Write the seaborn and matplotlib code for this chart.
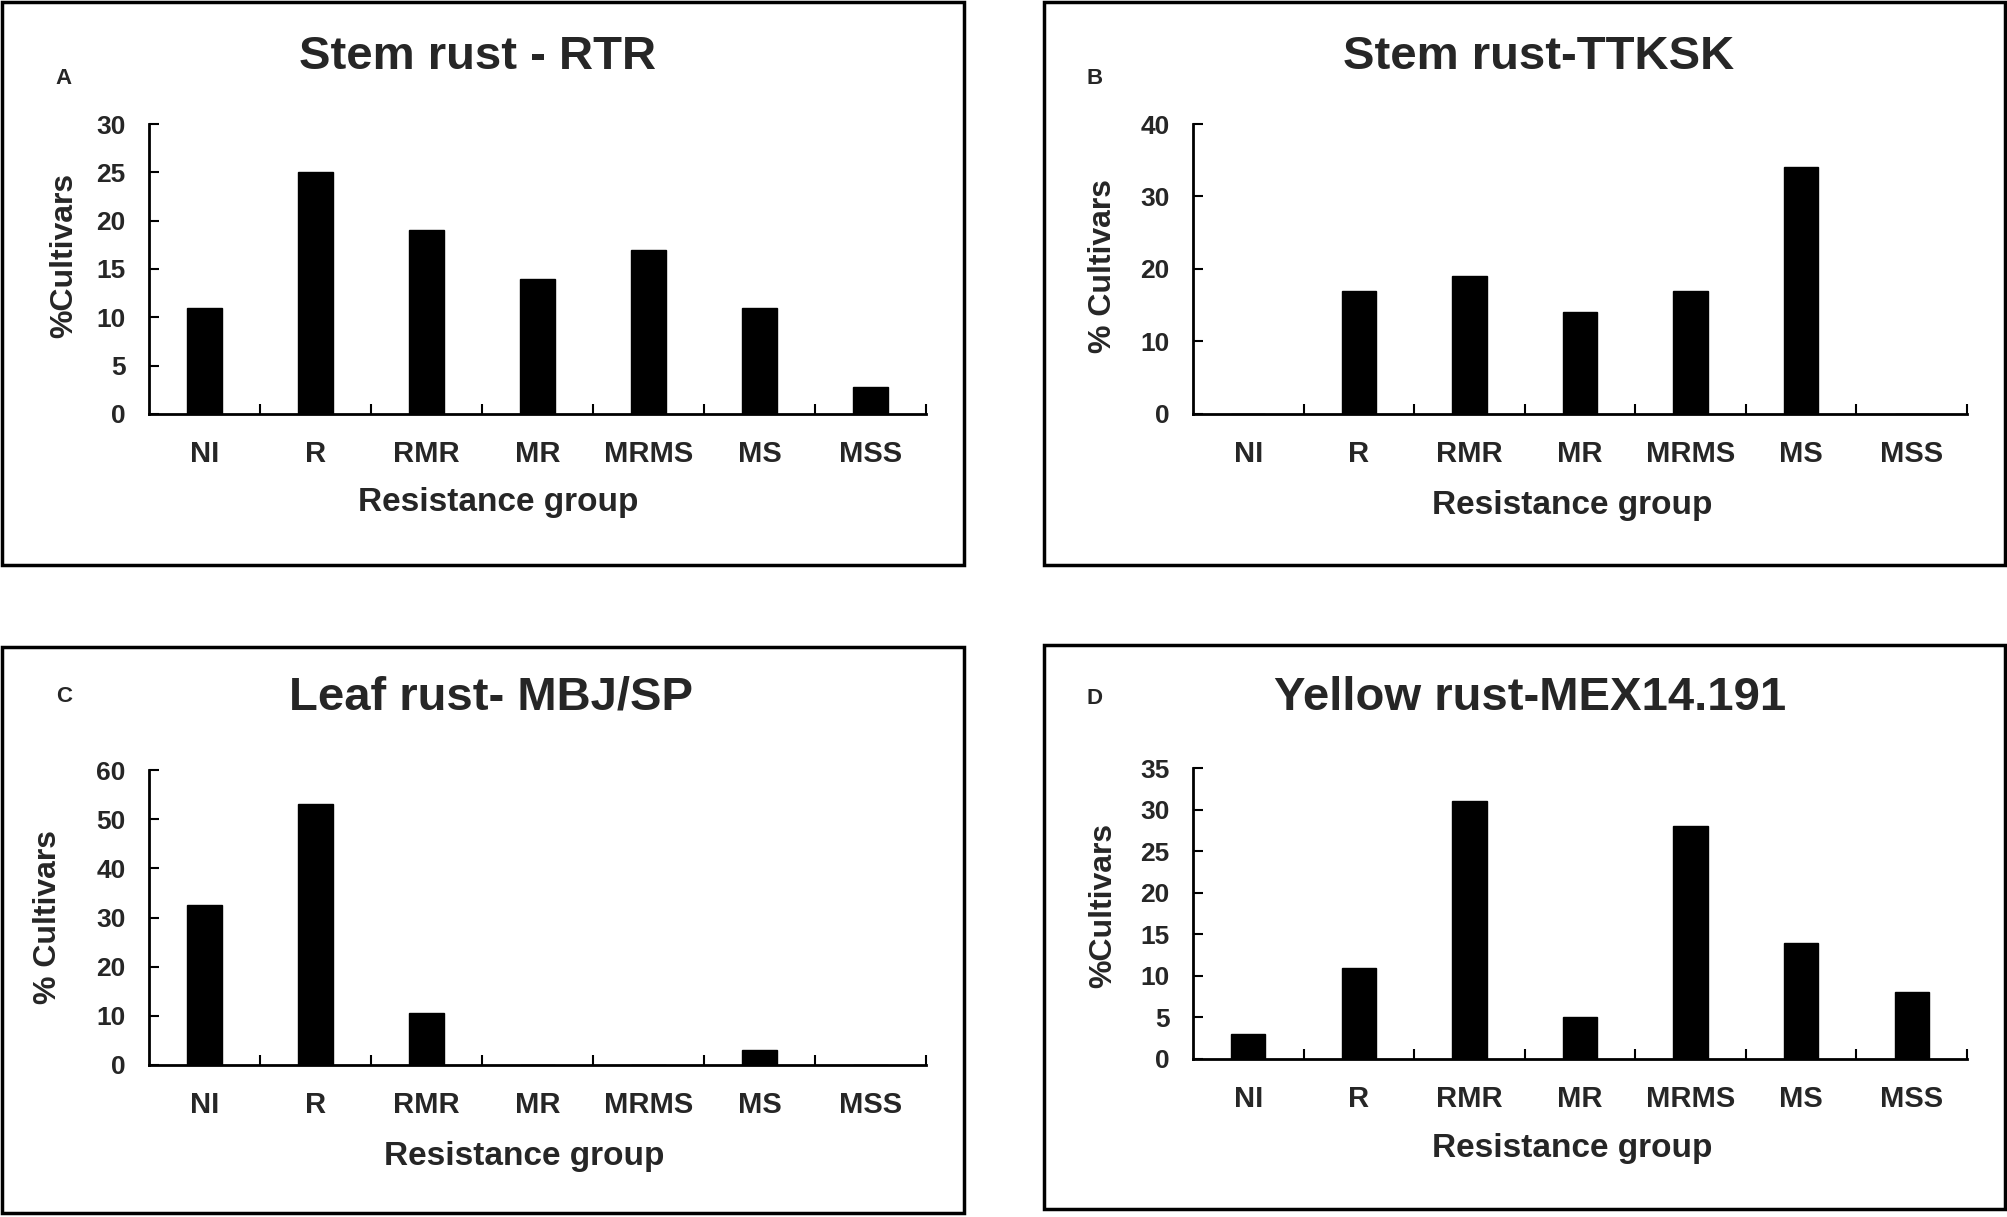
import matplotlib
matplotlib.use("Agg")
import matplotlib.pyplot as plt
import seaborn as sns
from matplotlib.patches import Rectangle

# Resistance groups on the x axis
groups = ["NI", "R", "RMR", "MR", "MRMS", "MS", "MSS"]

# % cultivars per group
stem_rtr = [11, 25, 19, 14, 17, 11, 2.8]
stem_ttksk = [0, 17, 19, 14, 17, 34, 0]
leaf_mbj = [32.5, 53, 10.5, 0, 0, 3, 0]
yellow_mex = [3, 11, 31, 5, 28, 14, 8]

titles = ["Stem rust - RTR", "Stem rust-TTKSK", "Leaf rust- MBJ/SP", "Yellow rust-MEX14.191"]
letters = ["A", "B", "C", "D"]
ylabels = ["%Cultivars", "% Cultivars", "% Cultivars", "%Cultivars"]
y_max = [30, 40, 60, 35]
y_step = [5, 10, 10, 5]

sns.set_theme(style="white")
plt.rcParams["font.family"] = ["Liberation Sans", "DejaVu Sans"]
plt.rcParams["font.weight"] = "bold"

W, H = 2008, 1217
fig = plt.figure(figsize=(W / 100, H / 100), dpi=100)

def fx(px):
    return px / W

def fy(py):
    return 1 - py / H

# axes boxes in pixels: left, top, right, bottom
ax_px = [(149, 124, 926, 414), (1193, 124, 1967, 414),
         (149, 770, 926, 1065), (1193, 768, 1967, 1059)]
# outer frames in pixels
frame_px = [(2, 2, 964, 565), (1044, 2, 2005, 565),
            (2, 647, 964, 1213), (1044, 645, 2005, 1209)]
title_px = [(478, 57), (1539, 57), (491, 698), (1530, 698)]
letter_px = [(64, 78), (1095, 78), (64, 696), (1095, 698)]
ylab_px = [(64, 255), (1103, 266), (48, 917), (1103, 905)]
xlab_px = [(498, 503), (1572, 505), (524, 1157), (1572, 1149)]

data = [stem_rtr, stem_ttksk, leaf_mbj, yellow_mex]

for i in range(4):
    l, t, r, b = ax_px[i]
    ax = fig.add_axes([fx(l), fy(b), fx(r) - fx(l), fy(t) - fy(b)])
    sns.barplot(x=groups, y=data[i], ax=ax, color="black", width=0.31,
                saturation=1, edgecolor="black")
    ax.set_xlim(-0.5, 6.5)
    ax.set_ylim(0, y_max[i])
    ax.set_yticks(range(0, y_max[i] + 1, y_step[i]))
    ax.set_xticks([k + 0.5 for k in range(7)], minor=True)
    sns.despine(ax=ax)
    for s in ["left", "bottom"]:
        ax.spines[s].set_linewidth(2)
        ax.spines[s].set_color("black")
    ax.tick_params(axis="x", which="major", length=0, pad=19, labelsize=21)
    ax.tick_params(axis="x", which="minor", direction="in", length=7, width=1.5,
                   color="black", bottom=True)
    ax.tick_params(axis="y", direction="in", length=7, width=1.5, color="black",
                   left=True, pad=17, labelsize=19)
    for lab in ax.get_xticklabels() + ax.get_yticklabels():
        lab.set_fontweight("bold")
    ax.set_xlabel("")
    ax.set_ylabel("")

    x, y = title_px[i]
    fig.text(fx(x), fy(y), titles[i], ha="center", va="center", fontsize=34, fontweight="bold")
    x, y = letter_px[i]
    fig.text(fx(x), fy(y), letters[i], ha="center", va="center", fontsize=16, fontweight="bold")
    x, y = ylab_px[i]
    fig.text(fx(x), fy(y), ylabels[i], ha="center", va="center", rotation=90,
             fontsize=23, fontweight="bold")
    x, y = xlab_px[i]
    fig.text(fx(x), fy(y), "Resistance group", ha="center", va="center", fontsize=24,
             fontweight="bold")

    l, t, r, b = frame_px[i]
    fig.patches.append(Rectangle((fx(l), fy(b)), fx(r) - fx(l), fy(t) - fy(b),
                                 transform=fig.transFigure, fill=False,
                                 edgecolor="black", linewidth=2.5))

fig.savefig("out.png", dpi=100, facecolor="white")
